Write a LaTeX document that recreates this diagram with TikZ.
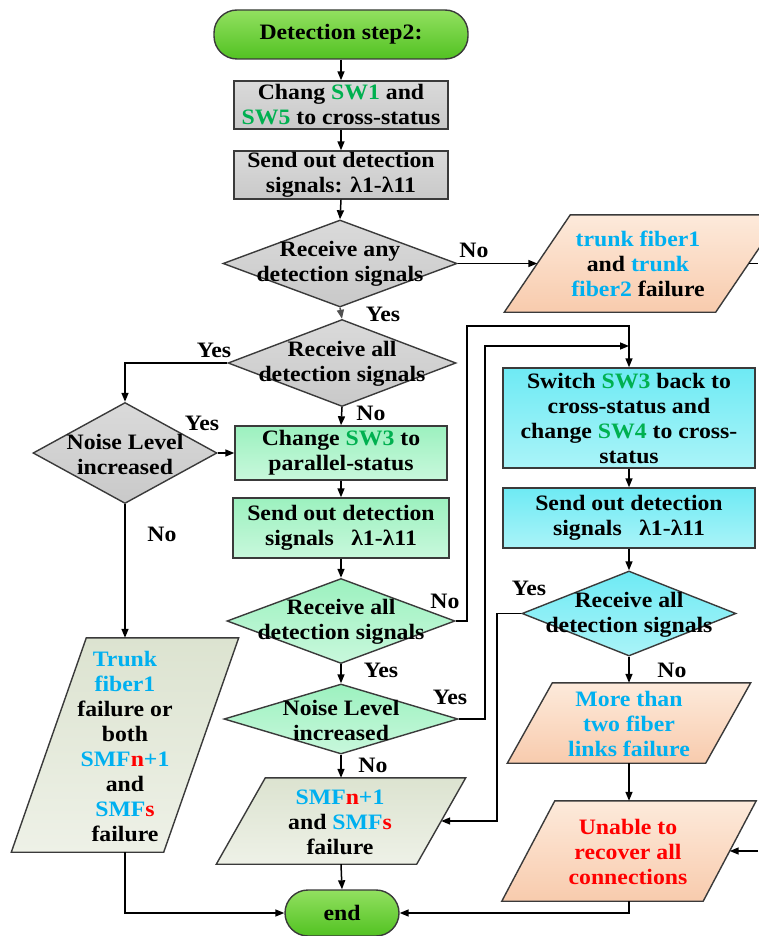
\documentclass[tikz,border=0pt]{standalone}
\usepackage{fontspec}
\setmainfont{Liberation Serif}[FakeStretch=1.08]
\usetikzlibrary{arrows.meta,shapes.geometric}
\definecolor{bord}{HTML}{3A3A3A}
\definecolor{arrgray}{HTML}{505050}
\definecolor{skyb}{HTML}{00B0F0}
\definecolor{swg}{HTML}{00B050}
\definecolor{redt}{HTML}{FF0000}
\definecolor{grayT}{HTML}{DADADA}
\definecolor{grayB}{HTML}{C9C9C9}
\definecolor{mintT}{HTML}{9CF1BF}
\definecolor{mintB}{HTML}{C8F8DC}
\definecolor{cyanT}{HTML}{6EEAF4}
\definecolor{cyanB}{HTML}{AAF4F8}
\definecolor{peachT}{HTML}{FDEADB}
\definecolor{peachB}{HTML}{F8CBAD}
\definecolor{oliveT}{HTML}{DCE3D0}
\definecolor{oliveB}{HTML}{EEF1E7}
\definecolor{termT}{HTML}{92E060}
\definecolor{termB}{HTML}{52C222}
\newcommand{\tbl}[1]{\textcolor{skyb}{#1}}
\newcommand{\tsw}[1]{\textcolor{swg}{#1}}
\newcommand{\trd}[1]{\textcolor{redt}{#1}}
\newcommand{\drawpara}[3]{\path[frame,#3] ([xshift=#2]#1.north west) -- ([xshift=#2]#1.north east) -- ([xshift=-#2]#1.south east) -- ([xshift=-#2]#1.south west) -- cycle;}
\begin{document}
\begin{tikzpicture}[x=1pt,y=-1pt,
  every node/.style={font=\bfseries\fontsize{22}{25}\selectfont},
  frame/.style={draw=bord, line width=1.4pt},
  rbox/.style={frame, rectangle, inner sep=0pt, align=center},
  grayfill/.style={top color=grayT, bottom color=grayB},
  mintfill/.style={top color=mintT, bottom color=mintB},
  cyanfill/.style={top color=cyanT, bottom color=cyanB},
  peachfill/.style={top color=peachT, bottom color=peachB},
  olivefill/.style={top color=oliveT, bottom color=oliveB},
  term/.style={frame, top color=termT, bottom color=termB, rectangle, rounded corners=23pt, inner sep=0pt},
  dia/.style={frame, diamond, inner sep=0pt},
  slot/.style={rectangle, inner sep=0pt, draw=none},
  txt/.style={align=center, inner sep=0pt},
  lab/.style={inner sep=0pt},
  arr/.style={line width=1.5pt, -{Triangle[length=9pt,width=7pt]}},
  ln/.style={line width=1.5pt}
]
\fill[white] (0,0) rectangle (758,936);
\useasboundingbox (0,0) rectangle (758,936);

% coordinates for free ends and bends
\coordinate (cA) at (467,326);
\coordinate (cB) at (485,346);
\coordinate (cC) at (497,613.5);
\coordinate (cR1) at (758,263.5);
\coordinate (cR2) at (758,851);

% central column
\node[term, minimum width=254pt, minimum height=49pt] (start) at (341,34.5) {Detection step2:};
\node[rbox, grayfill, minimum width=214pt, minimum height=48pt] (b1) at (341,105) {Chang \tsw{SW1} and\\\tsw{SW5} to cross-status};
\node[rbox, grayfill, minimum width=214pt, minimum height=48pt] (b2) at (341,175) {Send out detection\\signals: λ1-λ11};
\node[dia, grayfill, minimum width=234pt, minimum height=87pt] (d1) at (340,263.5) {};
\node[txt] (d1t) at (340,264) {Receive any\\detection signals};

\node[slot, minimum width=211pt, minimum height=97pt] (pT) at (643,263.5) {};
\drawpara{pT}{33pt}{peachfill}
\node[txt] (pTt) at (638,264) {\tbl{trunk fiber1}\\and \tbl{trunk}\\\tbl{fiber2} failure};

\node[dia, grayfill, minimum width=228pt, minimum height=87pt] (d2) at (342,363) {};
\node[txt] (d2t) at (342,364) {Receive all\\detection signals};

\node[dia, grayfill, minimum width=184pt, minimum height=101pt] (dN1) at (125,453) {};
\node[txt] (dN1t) at (125,454) {Noise Level\\increased};

\node[rbox, mintfill, minimum width=212pt, minimum height=54pt] (b3) at (341,453) {Change \tsw{SW3} to\\parallel-status};
\node[rbox, mintfill, minimum width=216pt, minimum height=60pt] (b4) at (341,528) {Send out detection\\signals\hspace{0.8em}λ1-λ11};
\node[dia, mintfill, minimum width=228pt, minimum height=85pt] (d3) at (341,621) {};
\node[txt] (d3t) at (341,622) {Receive all\\detection signals};
\node[dia, mintfill, minimum width=234pt, minimum height=70pt] (d4) at (341,719) {};
\node[txt] (d4t) at (341,720) {Noise Level\\increased};

\node[slot, minimum width=200pt, minimum height=86pt] (pMid) at (341,821) {};
\drawpara{pMid}{24.5pt}{olivefill}
\node[txt] (pMidt) at (340,822) {\tbl{SMF}\trd{n}\tbl{+1}\\and \tbl{SMF}\trd{s}\\failure};

\node[slot, minimum width=152pt, minimum height=214pt] (pLeft) at (125,745) {};
\drawpara{pLeft}{37.5pt}{olivefill}
\node[txt] (pLeftt) at (125,746) {\tbl{Trunk}\\\tbl{fiber1}\\failure or\\both\\\tbl{SMF}\trd{n}\tbl{+1}\\and\\\tbl{SMF}\trd{s}\\failure};

\node[term, minimum width=114pt, minimum height=46pt] (end) at (342,913) {end};

% right column
\node[rbox, cyanfill, minimum width=252pt, minimum height=100pt] (b5) at (629,418) {Switch \tsw{SW3} back to\\cross-status and\\change \tsw{SW4} to cross-\\status};
\node[rbox, cyanfill, minimum width=252pt, minimum height=60pt] (b6) at (629,518) {Send out detection\\signals\hspace{0.8em}λ1-λ11};
\node[dia, cyanfill, minimum width=214pt, minimum height=85pt] (d5) at (629,613.5) {};
\node[txt] (d5t) at (629,614.5) {Receive all\\detection signals};

\node[slot, minimum width=198pt, minimum height=80pt] (pMore) at (629,723) {};
\drawpara{pMore}{22.5pt}{peachfill}
\node[txt] (pMoret) at (629,724) {\tbl{More than}\\\tbl{two fiber}\\\tbl{links failure}};

\node[slot, minimum width=201pt, minimum height=100pt] (pUn) at (629,851) {};
\drawpara{pUn}{26.5pt}{peachfill}
\node[txt] (pUnt) at (628,852) {\textcolor{redt}{Unable to}\\\textcolor{redt}{recover all}\\\textcolor{redt}{connections}};

% labels
\node[lab] (l1) at (474,250) {No};
\node[lab] (l2) at (383,314) {Yes};
\node[lab] (l3) at (214,350) {Yes};
\node[lab] (l4) at (202,423) {Yes};
\node[lab] (l5) at (371,413) {No};
\node[lab] (l6) at (162,534) {No};
\node[lab] (l7) at (445,601) {No};
\node[lab] (l8) at (381,670) {Yes};
\node[lab] (l9) at (450,697) {Yes};
\node[lab] (l10) at (373,765) {No};
\node[lab] (l11) at (529,588) {Yes};
\node[lab] (l12) at (672,670) {No};

% connectors
\draw[arr] (start.south) -- (b1.north);
\draw[arr] (b1.south) -- (b2.north);
\draw[arr] (b2.south) -- (d1.north);
\draw[arr] (d1.east) -- (pT.west);
\draw[arr, draw=arrgray, fill=arrgray] (d1.south) -- (d2.north);
\draw[arr] (d2.west) -| (dN1.north);
\draw[arr] (dN1.east) -- (b3.west);
\draw[arr] (d2.south) -- (b3.north);
\draw[arr] (b3.south) -- (b4.north);
\draw[arr] (b4.south) -- (d3.north);
\draw[arr] (d3.south) -- (d4.north);
\draw[arr] (d4.south) -- (pMid.north);
\draw[arr] (dN1.south) -- (pLeft.north);
\draw[arr] (pLeft.south) |- (end.west);
\draw[arr] (pMid.south) -- (end.north);
\draw[arr] (d3.east) -| (cA) -| (b5.north);
\draw[arr] (d4.east) -| (cB) -- (cB -| b5.north);
\draw[arr] (b5.south) -- (b6.north);
\draw[arr] (b6.south) -- (d5.north);
\draw[arr] (d5.west) -- (cC) |- (pMid.east);
\draw[arr] (d5.south) -- (pMore.north);
\draw[arr] (pMore.south) -- (pUn.north);
\draw[arr] (pUn.south) |- (end.east);
\draw[ln] (pT.east) -- (cR1);
\draw[arr] (cR2) -- (pUn.east);
\end{tikzpicture}
\end{document}
